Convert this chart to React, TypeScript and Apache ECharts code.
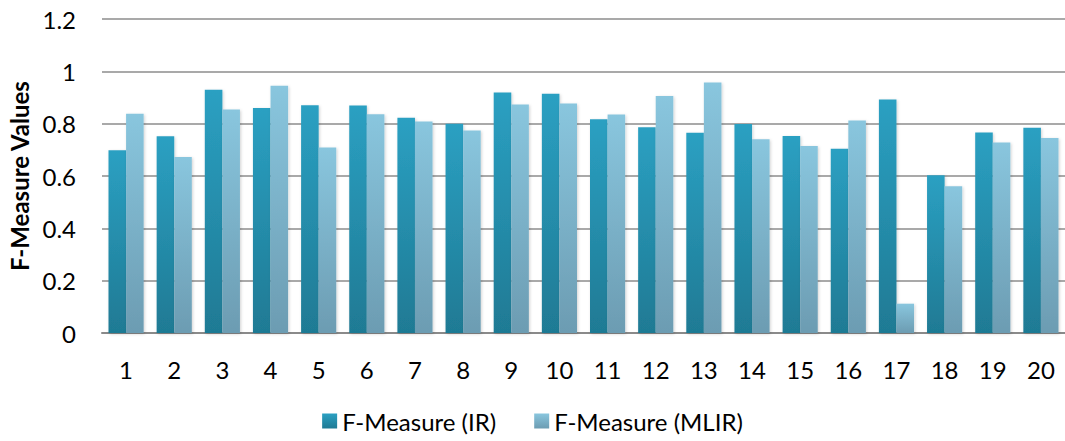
import React, { useEffect, useRef } from "react";
import * as echarts from "echarts";

const categories = ["1", "2", "3", "4", "5", "6", "7", "8", "9", "10", "11", "12", "13", "14", "15", "16", "17", "18", "19", "20"];
const irValues = [0.698, 0.752, 0.93, 0.86, 0.87, 0.869, 0.823, 0.8, 0.919, 0.914, 0.817, 0.786, 0.765, 0.799, 0.753, 0.704, 0.892, 0.603, 0.766, 0.784];
const mlirValues = [0.838, 0.673, 0.854, 0.945, 0.709, 0.836, 0.808, 0.774, 0.873, 0.877, 0.835, 0.906, 0.957, 0.74, 0.715, 0.812, 0.112, 0.561, 0.728, 0.745];
const seriesNames = ["F-Measure (IR)", "F-Measure (MLIR)"];
const yAxisTitle = "F-Measure Values";

const FONT = "Lato, 'Open Sans', sans-serif";

const vGrad = (top: string, bottom: string) =>
  new echarts.graphic.LinearGradient(0, 0, 0, 1, [
    { offset: 0, color: top },
    { offset: 1, color: bottom },
  ]);

export default function App() {
  const ref = useRef<HTMLDivElement>(null);

  useEffect(() => {
    if (!ref.current) return;
    const chart = echarts.init(ref.current, undefined, { renderer: "svg" });
    const barStyle = (top: string, bottom: string) => ({
      color: vGrad(top, bottom),
      shadowBlur: 3,
      shadowColor: "rgba(0,0,0,0.18)",
      shadowOffsetX: 1,
      shadowOffsetY: 1,
    });
    chart.setOption({
      animation: false,
      backgroundColor: "#ffffff",
      textStyle: { fontFamily: FONT },
      grid: { left: 102, right: 0, top: 19, bottom: 108, outerBoundsMode: "none", containLabel: false },
      legend: {
        bottom: 3,
        left: "center",
        itemWidth: 15,
        itemHeight: 15,
        itemGap: 38,
        icon: "rect",
        textStyle: { fontFamily: FONT, fontSize: 24, color: "#000" },
        data: seriesNames,
      },
      xAxis: {
        type: "category",
        data: categories,
        axisLine: { show: true, lineStyle: { color: "#8a8a8a", width: 2 } },
        axisTick: { show: false },
        axisLabel: { fontFamily: FONT, fontSize: 24, color: "#000", margin: 24 },
      },
      yAxis: {
        type: "value",
        min: 0,
        max: 1.2,
        interval: 0.2,
        name: yAxisTitle,
        nameLocation: "middle",
        nameGap: 70,
        nameTextStyle: { fontFamily: FONT, fontSize: 24, fontWeight: "bold", color: "#000" },
        axisLine: { show: false },
        axisTick: { show: false },
        axisLabel: {
          fontFamily: FONT,
          fontSize: 24,
          color: "#000",
          margin: 26,
          formatter: (v: number) => String(Math.round(v * 10) / 10),
        },
        splitLine: { lineStyle: { color: "#8c8c8c", width: 1.5 } },
      },
      series: [
        {
          name: seriesNames[0],
          type: "bar",
          data: irValues,
          barGap: "0%",
          barCategoryGap: "27%",
          itemStyle: barStyle("#2ba0c2", "#1f7a94"),
        },
        {
          name: seriesNames[1],
          type: "bar",
          data: mlirValues,
          barGap: "0%",
          barCategoryGap: "27%",
          itemStyle: barStyle("#89c6de", "#6c9cb2"),
        },
      ],
    });
    return () => chart.dispose();
  }, []);

  return (
    <div
      ref={ref}
      style={{ position: "fixed", left: 0, top: 0, width: 1065, height: 441 }}
    />
  );
}
